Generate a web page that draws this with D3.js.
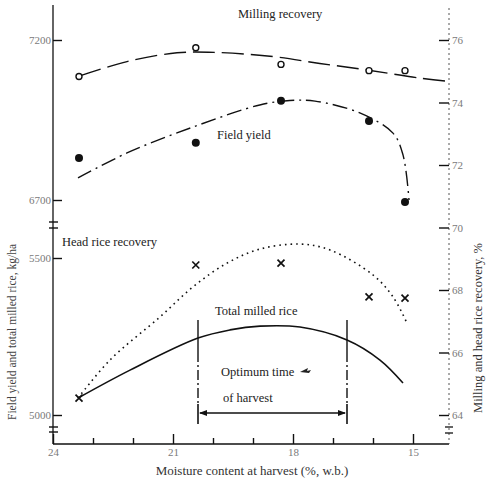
<!DOCTYPE html>
<html>
<head>
<meta charset="utf-8">
<script src="https://cdn.jsdelivr.net/npm/d3@7/dist/d3.min.js"></script>
<style>
  html, body { margin: 0; padding: 0; background: #fff; }
  svg { display: block; }
  text { font-family: "Liberation Serif", "DejaVu Serif", serif; }
</style>
</head>
<body>
<script>
// Moisture content at harvest (% w.b.) and the measured values
const moisture        = [23.35, 20.43, 18.3, 16.1, 15.2];
const fieldYield      = [6831, 6879, 7010, 6947, 6659];       // kg/ha
const millingRecovery = [74.83, 75.75, 75.22, 75.02, 75.02];  // %
const headRice        = [64.54, 68.8, 68.86, 67.78, 67.74];   // %

// Fitted curves, sampled along moisture content
const millingFitX = [23.33, 22.15, 20.9, 19.9, 18.5, 17.33, 16.15, 14.83, 14.2];
const millingFitY = [74.85, 75.31, 75.59, 75.6, 75.47, 75.25, 75.04, 74.78, 74.69];
const yieldFitX   = [23.375, 22.15, 20.5, 18.83, 18.08, 17.45, 16.33, 15.5, 15.25, 15.1];
const yieldFitY   = [6769, 6847, 6928, 6997, 7011, 7009, 6972, 6909, 6841, 6700];
const headFitX    = [23.375, 22.575, 21.325, 20.5, 19.65, 18.825, 17.825, 17.075, 16.0, 15.5, 15.15];
const headFitY    = [64.54, 65.76, 67.14, 68.1, 68.86, 69.31, 69.47, 69.28, 68.48, 67.78, 66.94];
const totalFitX   = [23.375, 22.075, 20.375, 19.575, 18.825, 17.825, 16.65, 15.825, 15.25];
const totalFitY   = [5054, 5143, 5245, 5271, 5283, 5280, 5239, 5175, 5102];

// Optimum harvest window (moisture, %)
const optimumWindow = [20.375, 16.65];

// Tick values
const xMajorTicks = [24, 21, 18, 15];
const xMinorTicks = [23, 22, 20, 19, 17, 16];
const leftTicks   = [5000, 5500, 6700, 7200];
const rightTicks  = [64, 66, 68, 70, 72, 74, 76];

const W = 492, H = 482;
const svg = d3.select("body").append("svg").attr("width", W).attr("height", H);

const x = d3.scaleLinear().domain([24, 14.125]).range([53, 448]);
// Broken left axis: 5000–5500 below the break, 6700–7200 above it
const yL = d3.scaleLinear().domain([5000, 5500, 6700, 7200]).range([415, 258, 200, 40]);
const yR = d3.scaleLinear().domain([64, 76]).range([415, 40]);

const axisY = 444;
const ink = "#111";
const tickInk = "#7a7a7a";

// ---- axes ----
// x axis
svg.append("line").attr("x1", x(24)).attr("x2", 449).attr("y1", axisY).attr("y2", axisY)
  .attr("stroke", ink).attr("stroke-width", 1.5);

const gxMinor = svg.append("g").attr("transform", `translate(0,${axisY})`)
  .call(d3.axisBottom(x).tickValues(xMinorTicks).tickSize(-6).tickFormat(""));
const gxMajor = svg.append("g").attr("transform", `translate(0,${axisY})`)
  .call(d3.axisBottom(x).tickValues(xMajorTicks).tickSize(-10).tickPadding(4).tickFormat(d3.format("d")));
[gxMinor, gxMajor].forEach(g => {
  g.select(".domain").remove();
  g.selectAll(".tick line").attr("stroke", ink).attr("stroke-width", 1.4);
  g.selectAll(".tick text").attr("fill", tickInk).attr("font-size", 11)
    .style("font-family", "'Liberation Serif', serif");
});

// left axis
svg.append("line").attr("x1", 53).attr("x2", 53).attr("y1", 5).attr("y2", axisY)
  .attr("stroke", ink).attr("stroke-width", 1.3);
const gl = svg.append("g").attr("transform", "translate(53,0)")
  .call(d3.axisLeft(yL).tickValues(leftTicks).tickSize(-9).tickPadding(2).tickFormat(d3.format("d")));
gl.select(".domain").remove();
gl.selectAll(".tick line").attr("stroke", ink).attr("stroke-width", 1.4);
gl.selectAll(".tick text").attr("fill", tickInk).attr("font-size", 11)
  .style("font-family", "'Liberation Serif', serif");

// break marks on the left axis
[222, 228, 427, 432].forEach(yy => {
  svg.append("line").attr("x1", 49).attr("x2", 58).attr("y1", yy).attr("y2", yy)
    .attr("stroke", ink).attr("stroke-width", 1.4);
});

// right axis (dotted)
svg.append("line").attr("x1", 449).attr("x2", 449).attr("y1", 8).attr("y2", axisY)
  .attr("stroke", "#555").attr("stroke-width", 1).attr("stroke-dasharray", "2,3");
const gr = svg.append("g").attr("transform", "translate(449,0)")
  .call(d3.axisRight(yR).tickValues(rightTicks).tickSize(-10).tickPadding(3).tickFormat(d3.format("d")));
gr.select(".domain").remove();
gr.selectAll(".tick line").attr("stroke", ink).attr("stroke-width", 1.4);
gr.selectAll(".tick text").attr("fill", tickInk).attr("font-size", 11)
  .style("font-family", "'Liberation Serif', serif");
[427, 433].forEach(yy => {
  svg.append("line").attr("x1", 445).attr("x2", 453).attr("y1", yy).attr("y2", yy)
    .attr("stroke", ink).attr("stroke-width", 1.3);
});

// axis titles
svg.append("text").attr("x", 252).attr("y", 475).attr("text-anchor", "middle")
  .attr("font-size", 13).attr("fill", "#333")
  .text("Moisture content at harvest (%, w.b.)");
svg.append("text").attr("transform", "translate(16,332) rotate(-90)").attr("text-anchor", "middle")
  .attr("font-size", 11.5).attr("fill", "#444")
  .text("Field yield and total milled rice, kg/ha");
svg.append("text").attr("transform", "translate(482,328) rotate(-90)").attr("text-anchor", "middle")
  .attr("font-size", 12.5).attr("fill", "#333")
  .text("Milling and head rice recovery, %");

// ---- curves ----
const lineR = d3.line().x(d => x(d[0])).y(d => yR(d[1])).curve(d3.curveCatmullRom.alpha(0.5));
const lineL = d3.line().x(d => x(d[0])).y(d => yL(d[1])).curve(d3.curveCatmullRom.alpha(0.5));
const zip = (a, b) => a.map((v, i) => [v, b[i]]);

svg.append("path").attr("d", lineR(zip(millingFitX, millingFitY)))
  .attr("fill", "none").attr("stroke", ink).attr("stroke-width", 1.4)
  .attr("stroke-dasharray", "22,7");
svg.append("path").attr("d", lineL(zip(yieldFitX, yieldFitY)))
  .attr("fill", "none").attr("stroke", ink).attr("stroke-width", 1.4)
  .attr("stroke-dasharray", "15,5,2,5");
svg.append("path").attr("d", lineR(zip(headFitX, headFitY)))
  .attr("fill", "none").attr("stroke", ink).attr("stroke-width", 1.6)
  .attr("stroke-dasharray", "1.6,4");
svg.append("path").attr("d", lineL(zip(totalFitX, totalFitY)))
  .attr("fill", "none").attr("stroke", ink).attr("stroke-width", 1.6);

// ---- markers ----
svg.append("g").selectAll("circle").data(zip(moisture, millingRecovery)).join("circle")
  .attr("cx", d => x(d[0])).attr("cy", d => yR(d[1])).attr("r", 3)
  .attr("fill", "#fff").attr("stroke", ink).attr("stroke-width", 1.4);
svg.append("g").selectAll("circle").data(zip(moisture, fieldYield)).join("circle")
  .attr("cx", d => x(d[0])).attr("cy", d => yL(d[1])).attr("r", 4).attr("fill", ink);
svg.append("g").selectAll("path").data(zip(moisture, headRice)).join("path")
  .attr("transform", d => `translate(${x(d[0])},${yR(d[1])})`)
  .attr("d", "M-3.5,-3.5L3.5,3.5M-3.5,3.5L3.5,-3.5")
  .attr("stroke", ink).attr("stroke-width", 1.7);

// ---- optimum harvest window ----
const winTop = 320, winBot = 424;
optimumWindow.forEach(m => {
  const xx = x(m);
  svg.append("line").attr("x1", xx).attr("x2", xx).attr("y1", winTop).attr("y2", 352)
    .attr("stroke", ink).attr("stroke-width", 1.4);
  svg.append("line").attr("x1", xx).attr("x2", xx).attr("y1", 352).attr("y2", 404)
    .attr("stroke", ink).attr("stroke-width", 1.4).attr("stroke-dasharray", "10,3,2,3");
  svg.append("line").attr("x1", xx).attr("x2", xx).attr("y1", 404).attr("y2", winBot)
    .attr("stroke", ink).attr("stroke-width", 1.6);
});
const ax0 = x(optimumWindow[0]), ax1 = x(optimumWindow[1]), ay = 413;
svg.append("line").attr("x1", ax0 + 2).attr("x2", ax1 - 2).attr("y1", ay).attr("y2", ay)
  .attr("stroke", ink).attr("stroke-width", 1.4);
svg.append("path").attr("d", `M${ax0 + 1},${ay}L${ax0 + 9},${ay - 3}L${ax0 + 9},${ay + 3}Z`).attr("fill", ink);
svg.append("path").attr("d", `M${ax1 - 1},${ay}L${ax1 - 9},${ay - 3}L${ax1 - 9},${ay + 3}Z`).attr("fill", ink);

// ---- annotations ----
const note = (tx, ty, s) => svg.append("text").attr("x", tx).attr("y", ty)
  .attr("font-size", 12.5).attr("fill", "#222").text(s);
note(238, 18, "Milling recovery");
note(217, 139, "Field yield");
note(62, 246, "Head rice recovery");
note(215, 315, "Total milled rice");
note(221, 376, "Optimum time");
note(223, 402, "of harvest");
svg.append("path").attr("d", "M300,372L308,368L307,371L311,370L309,373Z").attr("fill", "#222");
</script>
</body>
</html>
